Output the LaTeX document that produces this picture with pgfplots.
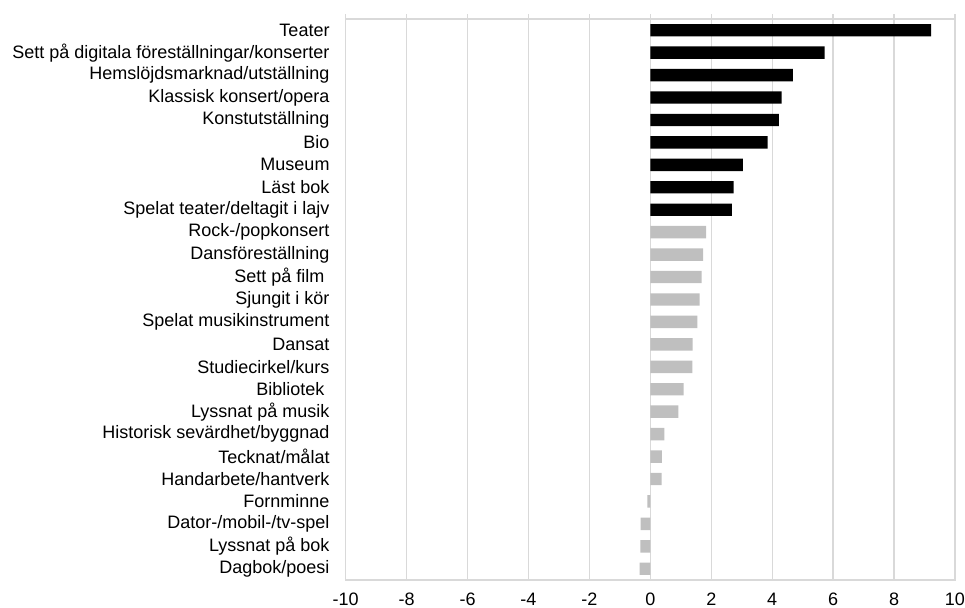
\documentclass[border=0pt]{standalone}
\usepackage{pgfplots}
\pgfplotsset{compat=1.18}
\usepackage{fontspec}
\setmainfont{Liberation Sans}
\definecolor{gridgray}{HTML}{D9D9D9}
\definecolor{bargray}{HTML}{BFBFBF}
\begin{document}
\begin{tikzpicture}
\useasboundingbox (-259.3pt,-21pt) rectangle (464.5pt,435pt);
\begin{axis}[
  at={(0,0)}, anchor=south west,
  scale only axis,
  width=457pt, height=420.75pt,
  xmin=-10, xmax=10, ymin=-0.5, ymax=24.5,
  y dir=reverse,
  xbar, bar width=9.3pt,
  xtick={-10,-8,...,10},
  xticklabels={-10,-8,-6,-4,-2,0,2,4,6,8,10},
  ytick={0,...,24},
  yticklabels={Teater,Sett på digitala föreställningar/konserter,Hemslöjdsmarknad/utställning,Klassisk konsert/opera,Konstutställning,Bio,Museum,Läst bok,Spelat teater/deltagit i lajv,Rock-/popkonsert,Dansföreställning,{Sett på film\hspace*{0.278em}},Sjungit i kör,Spelat musikinstrument,Dansat,Studiecirkel/kurs,{Bibliotek\hspace*{0.278em}},Lyssnat på musik,Historisk sevärdhet/byggnad,Tecknat/målat,Handarbete/hantverk,Fornminne,Dator-/mobil-/tv-spel,Lyssnat på bok,Dagbok/poesi},
  xmajorgrids,
  major grid style={draw=gridgray, line width=1pt},
  axis line style={draw=gridgray, line width=1pt},
  xtick pos=right, xticklabel pos=left,
  xtick align=outside,
  major tick length=3.75pt,
  xtick style={draw=gridgray, line width=1pt},
  ytick style={draw=none},
  yticklabel style={font=\fontsize{13.5}{16}\selectfont, anchor=east, inner sep=0pt, xshift=-8.2pt},
  xticklabel style={font=\fontsize{13.5}{16}\selectfont, anchor=north, inner sep=0pt, yshift=-5.6pt},
]
\addplot[fill=black, draw=none, bar shift=0pt] coordinates {
  (9.22,0) (5.72,1) (4.68,2) (4.31,3) (4.22,4) (3.85,5) (3.04,6) (2.73,7) (2.68,8)
};
\addplot[fill=bargray, draw=none, bar shift=0pt] coordinates {
  (1.83,9) (1.73,10) (1.68,11) (1.62,12) (1.54,13) (1.39,14) (1.38,15) (1.09,16) (0.92,17)
  (0.46,18) (0.38,19) (0.37,20) (-0.10,21) (-0.32,22) (-0.33,23) (-0.35,24)
};
\end{axis}
\end{tikzpicture}
\end{document}
